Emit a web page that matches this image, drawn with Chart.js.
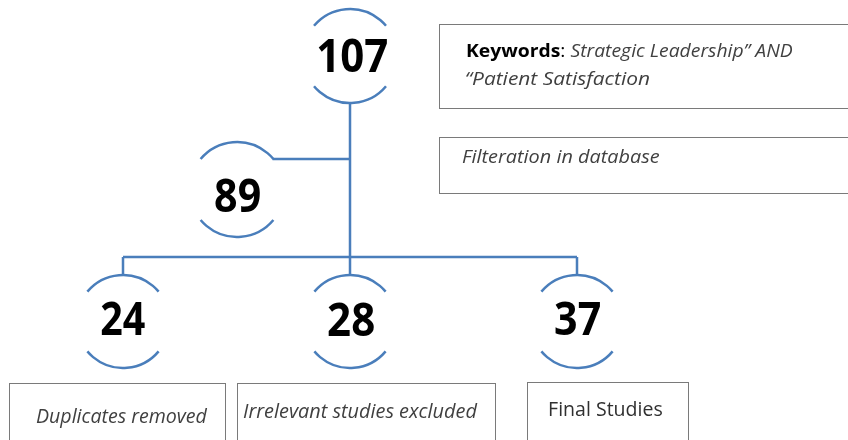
<!DOCTYPE html>
<html>
<head>
<meta charset="utf-8">
<script src="https://cdn.jsdelivr.net/npm/chart.js@4/dist/chart.umd.min.js"></script>
<style>
html,body{margin:0;padding:0;background:#ffffff;}
#wrap{width:848px;height:440px;position:relative;}
</style>
</head>
<body>
<div id="wrap"><canvas id="c"></canvas></div>
<script>
// ---- data ----
const nodeLabels = ['107', '89', '24', '28', '37'];
const keywordsLabel = 'Keywords';
const keywordsLines = ['Strategic Leadership\u201D AND', '\u201CPatient Satisfaction'];
const stepLabels = ['Filteration in database', 'Duplicates removed', 'Irrelevant studies excluded', 'Final Studies'];
const stepItalic = [true, true, true, false];

// ---- layout (chart coordinate space 0..848 x 0..440) ----
const nodeX = [350, 237, 123, 350, 577];
const nodeY = [56, 189.5, 321.5, 321.5, 321.5];
const nodeR = [47, 47.5, 46.5, 46.5, 46.5];
const numInkLeft = [318, 215, 101, 328, 555];
const numBaseline = [72, 212, 335, 336, 335];
const numWidth = [69, 45, 44, 46, 45];

const connectors = [
  [{x:350,y:103},{x:350,y:275}],
  [{x:272.5,y:159},{x:350,y:159}],
  [{x:123,y:257},{x:577,y:257}],
  [{x:123,y:257},{x:123,y:275}],
  [{x:577,y:257},{x:577,y:275}]
];

// boxes: [x0,y0,x1,y1]
const keywordsBox = [439, 24, 850, 108];
const stepBoxes = [
  [439, 137, 850, 193],
  [9, 383, 225, 442],
  [237, 383, 495, 442],
  [527, 382, 688, 442]
];
// text: [ink left x, baseline, ink width]
const keywordsText = [[467, 57, 326], [466, 85, 184]];
const stepText = [[462, 163, 198], [36, 423, 172], [243, 418, 235], [550, 416, 112]];

const BLUE = '#4a7ebb';
const BOX = '#7a7a7a';
const TXT = '#404040';
const FAMILY = '"Open Sans", "Noto Sans", sans-serif';

// draws text parts so that their ink spans exactly targetW starting at x
function drawParts(ctx, parts, x, y, targetW) {
  let adv = 0;
  parts.forEach(p => {
    ctx.font = p.font;
    const m = ctx.measureText(p.text);
    p.w = m.width; p.l = m.actualBoundingBoxLeft; p.r = m.actualBoundingBoxRight;
    adv += p.w;
  });
  const first = parts[0], last = parts[parts.length - 1];
  const inkLeft = -first.l;
  const inkRight = adv - last.w + last.r;
  const inkW = inkRight - inkLeft;
  const s = targetW ? targetW / inkW : 1;
  ctx.save();
  ctx.translate(x, y);
  ctx.scale(s, 1);
  ctx.translate(-inkLeft, 0);
  ctx.textAlign = 'left';
  ctx.textBaseline = 'alphabetic';
  let cx = 0;
  parts.forEach(p => { ctx.font = p.font; ctx.fillStyle = p.color; ctx.fillText(p.text, cx, 0); cx += p.w; });
  ctx.restore();
}

const diagramPlugin = {
  id: 'diagram',
  afterDatasetsDraw(chart) {
    const ctx = chart.ctx;
    const xs = chart.scales.x, ys = chart.scales.y;
    const px = v => xs.getPixelForValue(v);
    const py = v => ys.getPixelForValue(v);
    const unit = Math.abs(px(1) - px(0));

    // circle arcs (top and bottom)
    ctx.save();
    ctx.strokeStyle = BLUE;
    ctx.lineWidth = 2.5;
    ctx.lineCap = 'butt';
    const half = 50 * Math.PI / 180;
    nodeLabels.forEach((lab, i) => {
      const cx = px(nodeX[i]), cy = py(nodeY[i]), r = nodeR[i] * unit;
      ctx.beginPath();
      ctx.arc(cx, cy, r, -Math.PI / 2 - half, -Math.PI / 2 + half);
      ctx.stroke();
      ctx.beginPath();
      ctx.arc(cx, cy, r, Math.PI / 2 - half, Math.PI / 2 + half);
      ctx.stroke();
    });
    ctx.restore();

    // numbers
    nodeLabels.forEach((lab, i) => {
      drawParts(ctx, [{text: lab, font: 'bold 46px ' + FAMILY, color: '#000000'}],
        px(numInkLeft[i]), py(numBaseline[i]), numWidth[i] * unit);
    });

    // boxes
    ctx.save();
    ctx.strokeStyle = BOX;
    ctx.lineWidth = 1;
    [keywordsBox].concat(stepBoxes).forEach(b => {
      const x0 = Math.round(px(b[0])) + 0.5, y0 = Math.round(py(b[1])) + 0.5;
      const x1 = Math.round(px(b[2])) + 0.5, y1 = Math.round(py(b[3])) + 0.5;
      ctx.strokeRect(x0, y0, x1 - x0, y1 - y0);
    });
    ctx.restore();

    // keywords text
    drawParts(ctx, [
      {text: keywordsLabel, font: 'bold 17.5px ' + FAMILY, color: '#000000'},
      {text: ': ', font: '17.5px ' + FAMILY, color: '#000000'},
      {text: keywordsLines[0], font: 'italic 17.5px ' + FAMILY, color: TXT}
    ], px(keywordsText[0][0]), py(keywordsText[0][1]), keywordsText[0][2] * unit);
    drawParts(ctx, [
      {text: keywordsLines[1], font: 'italic 17.5px ' + FAMILY, color: TXT}
    ], px(keywordsText[1][0]), py(keywordsText[1][1]), keywordsText[1][2] * unit);

    // step texts
    stepLabels.forEach((t, i) => {
      const size = i === 0 ? 17.5 : 20.5;
      const f = (stepItalic[i] ? 'italic ' : '') + size + 'px ' + FAMILY;
      drawParts(ctx, [{text: t, font: f, color: i === 3 ? '#303030' : TXT}],
        px(stepText[i][0]), py(stepText[i][1]), stepText[i][2] * unit);
    });
  }
};

new Chart(document.getElementById('c'), {
  type: 'scatter',
  data: {
    datasets: connectors.map(seg => ({
      data: seg,
      showLine: true,
      borderColor: BLUE,
      borderWidth: 2.5,
      pointRadius: 0,
      pointHoverRadius: 0,
      fill: false,
      tension: 0
    }))
  },
  options: {
    responsive: true,
    maintainAspectRatio: false,
    animation: false,
    events: [],
    layout: {padding: 0},
    plugins: {legend: {display: false}, tooltip: {enabled: false}, title: {display: false}},
    scales: {
      x: {type: 'linear', min: 0, max: 848, display: false},
      y: {type: 'linear', min: 0, max: 440, reverse: true, display: false}
    }
  },
  plugins: [diagramPlugin]
});
</script>
</body>
</html>
